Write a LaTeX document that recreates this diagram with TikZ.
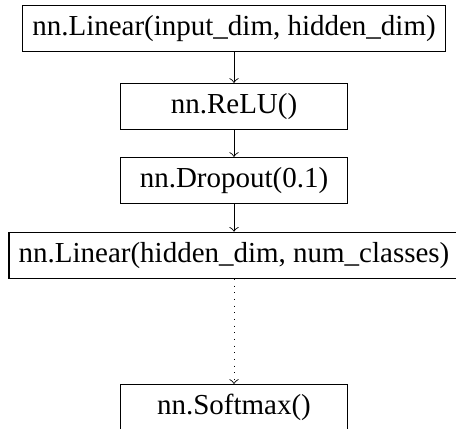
\documentclass[tikz,border=0pt]{standalone}
\usepackage{fontspec}
\setmainfont{Liberation Serif}
\begin{document}
\begin{tikzpicture}[x=0.345pt,y=-0.345pt,
  layer/.style={draw, line width=0.4pt, minimum width=78.3pt, minimum height=15.9pt, inner sep=3.33pt, font=\fontsize{10}{12}\selectfont},
  conn/.style={->, line width=0.3pt}]
\useasboundingbox (0,0) rectangle (456,428);
\node[layer] (n1) at (234,28.5) {nn.Linear(input\_dim, hidden\_dim)};
\node[layer] (n2) at (234,106.5) {nn.ReLU()};
\node[layer] (n3) at (234,180.5) {nn.Dropout(0.1)};
\node[layer] (n4) at (234,255.3) {nn.Linear(hidden\_dim, num\_classes)};
\node[layer] (n5) at (234,407.5) {nn.Softmax()};
\draw[conn] (n1) -- (n2);
\draw[conn] (n2) -- (n3);
\draw[conn] (n3) -- (n4);
\draw[conn, dotted] (n4) -- (n5);
\end{tikzpicture}
\end{document}
